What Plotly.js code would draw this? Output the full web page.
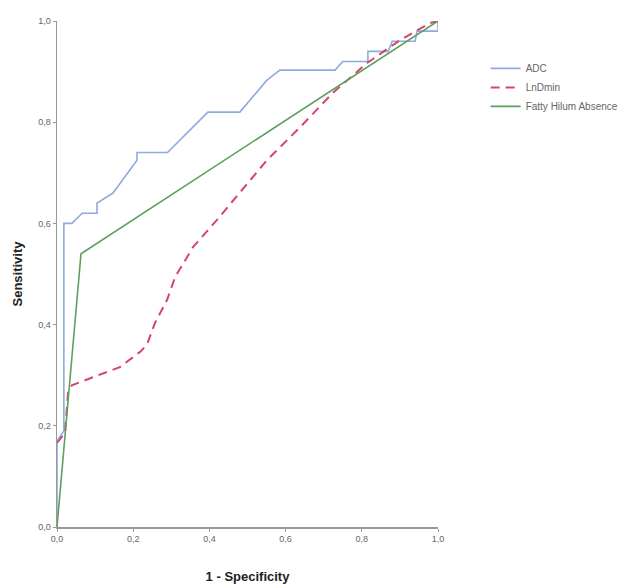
<!DOCTYPE html>
<html>
<head>
<meta charset="utf-8">
<script src="https://cdn.plot.ly/plotly-3.0.1.min.js"></script>
<style>html,body{margin:0;padding:0;background:#fff;}#chart{width:637px;height:587px;}</style>
</head>
<body>
<div id="chart"></div>
<script>
// ADC ROC curve
const adcX = [0, 0, 0.018, 0.018, 0.039, 0.066, 0.105, 0.105, 0.147, 0.197, 0.21, 0.21, 0.29, 0.396, 0.48, 0.551, 0.585, 0.73, 0.75, 0.816, 0.816, 0.869, 0.88, 0.94, 0.945, 0.97, 1.0, 1.0];
const adcY = [0, 0.17, 0.19, 0.60, 0.60, 0.62, 0.62, 0.64, 0.66, 0.71, 0.725, 0.74, 0.74, 0.82, 0.82, 0.883, 0.903, 0.903, 0.92, 0.92, 0.94, 0.94, 0.96, 0.96, 0.98, 0.98, 0.98, 1.0];
// LnDmin ROC curve
const lnX = [0, 0.021, 0.029, 0.039, 0.094, 0.165, 0.218, 0.236, 0.257, 0.289, 0.31, 0.357, 0.42, 0.507, 0.551, 0.638, 0.724, 0.814, 0.9, 0.979, 1.0];
const lnY = [0.166, 0.186, 0.265, 0.28, 0.296, 0.316, 0.346, 0.36, 0.403, 0.449, 0.494, 0.553, 0.607, 0.686, 0.725, 0.79, 0.858, 0.917, 0.962, 0.996, 1.0];
// Fatty Hilum Absence ROC curve
const fhX = [0, 0.063, 1.0];
const fhY = [0, 0.54, 1.0];

const tickVals = [0, 0.2, 0.4, 0.6, 0.8, 1.0];
const tickText = ['0,0', '0,2', '0,4', '0,6', '0,8', '1,0'];

const traces = [
  {x: adcX, y: adcY, name: 'ADC', type: 'scatter', mode: 'lines',
   line: {color: '#8eaadf', width: 1.6}, cliponaxis: false},
  {x: lnX, y: lnY, name: 'LnDmin', type: 'scatter', mode: 'lines',
   line: {color: '#d2466e', width: 2, dash: '9px,6px'}, cliponaxis: false},
  {x: fhX, y: fhY, name: 'Fatty Hilum Absence', type: 'scatter', mode: 'lines',
   line: {color: '#5f9f5f', width: 1.6}, cliponaxis: false}
];

const layout = {
  width: 637, height: 587,
  margin: {l: 57, r: 199, t: 21, b: 60},
  paper_bgcolor: '#fff', plot_bgcolor: '#fff',
  showlegend: true,
  legend: {x: 1.125, y: 0.935, xanchor: 'left', yanchor: 'top',
           font: {family: 'Liberation Sans Narrow, Liberation Sans, Arial', size: 10, color: '#666'},
           bgcolor: 'rgba(0,0,0,0)', tracegroupgap: 0, itemwidth: 30},
  xaxis: {range: [0, 1], tickvals: tickVals, ticktext: tickText,
          showgrid: false, zeroline: false, showline: true, linecolor: '#999', linewidth: 1.5,
          ticks: 'outside', ticklen: 3, tickcolor: '#999',
          tickfont: {family: 'Liberation Sans, Arial', size: 9, color: '#666'},
          title: {text: '<b>1 - Specificity</b>', standoff: 28,
                  font: {family: 'Liberation Sans, Arial', size: 13, color: '#222'}}},
  yaxis: {range: [0, 1], tickvals: tickVals, ticktext: tickText,
          showgrid: false, zeroline: false, showline: true, linecolor: '#999', linewidth: 1.5,
          ticks: 'outside', ticklen: 3, tickcolor: '#999',
          tickfont: {family: 'Liberation Sans, Arial', size: 9, color: '#666'},
          title: {text: '<b>Sensitivity</b>', standoff: 12,
                  font: {family: 'Liberation Sans, Arial', size: 13, color: '#222'}}}
};

Plotly.newPlot('chart', traces, layout, {displayModeBar: false, staticPlot: true});
</script>
</body>
</html>
